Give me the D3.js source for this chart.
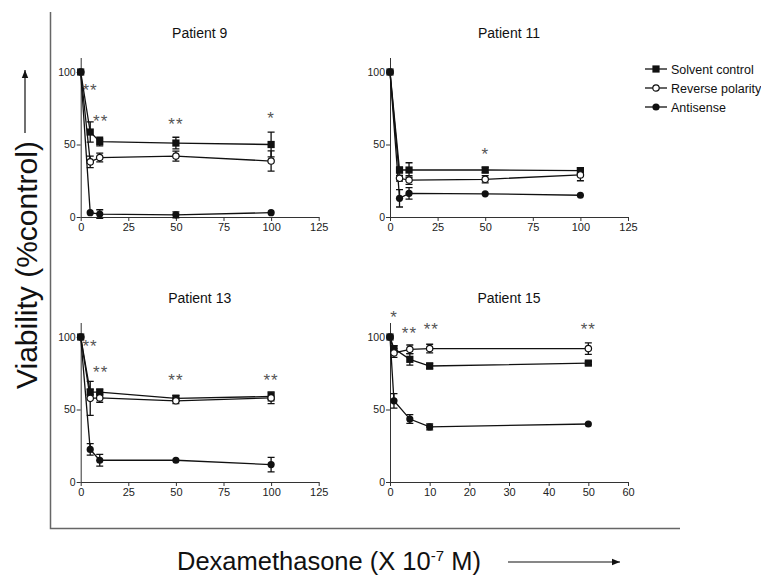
<!DOCTYPE html>
<html>
<head>
<meta charset="utf-8">
<script src="https://cdn.jsdelivr.net/npm/d3@7"></script>
<style>
  body { margin: 0; background: #fff; }
  text { font-family: Arial, "Liberation Sans", sans-serif; }
</style>
</head>
<body>
<div class="chart-container"></div>
<script>
// Data
const patients = ['Patient 9', 'Patient 11', 'Patient 13', 'Patient 15'];
const doses = [[0, 5, 10, 50, 100], [0, 5, 10, 50, 100], [0, 5, 10, 50, 100], [0, 1, 5, 10, 50]];
const xMax = [125, 125, 125, 60];
const xTicks = [[0, 25, 50, 75, 100, 125], [0, 25, 50, 75, 100, 125], [0, 25, 50, 75, 100, 125], [0, 10, 20, 30, 40, 50, 60]];
const yTicks = [0, 50, 100];

const solventMean = [[100, 58.6, 52, 51, 50], [100, 32.4, 32.4, 32.4, 32], [100, 62, 62, 57.7, 59], [100, 92, 84.6, 80, 82]];
const solventErr = [[0, 7, 3, 4, 8.5], [0, 2, 5, 2, 2], [0, 2, 2, 2, 3], [0, 2, 4, 2, 1]];
const reverseMean = [[100, 38, 41, 42, 38.6], [100, 26.7, 25.5, 26, 29], [100, 57.7, 58, 56, 58], [100, 89, 91.5, 92, 92]];
const reverseErr = [[0, 4, 3, 3.5, 7], [0, 2, 3, 2.5, 4], [0, 11.7, 3, 2, 4], [0, 3, 3, 3, 4]];
const antisenseMean = [[100, 3, 2, 1.5, 3], [100, 12.9, 16.3, 16, 15], [100, 22.5, 15, 15, 12], [100, 56, 43.4, 38, 40]];
const antisenseErr = [[0, 0, 3, 2, 0], [0, 6, 4, 0, 0], [0, 4, 4, 0, 5], [0, 5, 3, 2, 0]];

// significance marks: [dose, label, y value]
const stars = [
    [[4.9, '**', 89.7], [10.5, '**', 68.5], [50, '**', 66.4], [100, '*', 71]],
    [[50, '*', 45.7]],
    [[4.9, '**', 96], [10.5, '**', 78], [50, '**', 73], [100, '**', 73]],
    [[1, '*', 116.5], [4.9, '**', 105.5], [10.4, '**', 107.6], [50, '**', 107.6]]
];

const seriesNames = ['Solvent control', 'Reverse polarity', 'Antisense'];
const seriesMarks = ['square', 'open', 'dot'];

// Dimensions & layout
const W = 761, H = 575;
const panelW = 238, panelH = 159.5;
const panelX = [80.7, 390, 80.7, 390];
const panelY = [217, 217, 482, 482];   // y of the zero line
const ink = '#111';

const svg = d3.select('.chart-container')
    .append('svg')
        .attr('width', W)
        .attr('height', H);

// Outer frame (left + bottom)
svg.append('path')
    .attr('d', 'M50.5,12 V528.5 H680')
    .attr('fill', 'none')
    .attr('stroke', '#666')
    .attr('stroke-width', 1.5);

function drawMarker(g, kind, x, y) {
    if (kind === 'square') {
        g.append('rect').attr('x', x - 3.6).attr('y', y - 3.6)
            .attr('width', 7.2).attr('height', 7.2).attr('fill', ink);
    } else if (kind === 'open') {
        g.append('circle').attr('cx', x).attr('cy', y).attr('r', 3.2)
            .attr('fill', '#fff').attr('stroke', ink).attr('stroke-width', 1.2);
    } else {
        g.append('circle').attr('cx', x).attr('cy', y).attr('r', 3.6).attr('fill', ink);
    }
}

patients.forEach((name, i) => {
    const x = d3.scaleLinear().domain([0, xMax[i]]).range([0, panelW]);
    const y = d3.scaleLinear().domain([0, 110]).range([0, -panelH]);

    const g = svg.append('g')
        .attr('transform', `translate(${panelX[i]},${panelY[i]})`);

    // Axes
    g.append('g')
        .call(d3.axisBottom(x).tickValues(xTicks[i]).tickSize(4).tickSizeOuter(0).tickPadding(2))
        .call(a => a.selectAll('text').attr('font-size', 11).attr('fill', '#222'))
        .call(a => a.selectAll('path,line').attr('stroke', '#333'));
    g.append('g')
        .call(d3.axisLeft(y).tickValues(yTicks).tickSize(4).tickSizeOuter(0).tickPadding(1))
        .call(a => a.selectAll('text').attr('font-size', 10.5).attr('fill', '#222'))
        .call(a => a.selectAll('path,line').attr('stroke', '#333'));

    // Title
    g.append('text')
        .attr('x', panelW / 2)
        .attr('y', -panelH - 20)
        .attr('text-anchor', 'middle')
        .attr('font-size', 14)
        .attr('fill', '#111')
        .text(name);

    const means = [solventMean[i], reverseMean[i], antisenseMean[i]];
    const errs = [solventErr[i], reverseErr[i], antisenseErr[i]];
    const line = d3.line().x(d => x(d[0])).y(d => y(d[1]));

    means.forEach((m, s) => {
        const pts = doses[i].map((d, k) => [d, m[k], errs[s][k]]);
        g.append('path')
            .datum(pts)
            .attr('d', line)
            .attr('fill', 'none')
            .attr('stroke', ink)
            .attr('stroke-width', 1.3);

        // Error bars
        pts.filter(p => p[2] > 0).forEach(p => {
            const px = x(p[0]), y1 = y(p[1] + p[2]), y2 = y(p[1] - p[2]);
            g.append('path')
                .attr('d', `M${px},${y1}V${y2}M${px - 3.5},${y1}H${px + 3.5}M${px - 3.5},${y2}H${px + 3.5}`)
                .attr('stroke', ink)
                .attr('stroke-width', 1.3)
                .attr('fill', 'none');
        });
    });

    means.forEach((m, s) => {
        doses[i].forEach((d, k) => drawMarker(g, seriesMarks[s], x(d), y(m[k])));
    });

    // Significance stars
    stars[i].forEach(st => {
        g.append('text')
            .attr('x', x(st[0]))
            .attr('y', y(st[2]) + 9.5)
            .attr('text-anchor', 'middle')
            .attr('font-size', 17)
            .attr('letter-spacing', 1)
            .attr('fill', '#555')
            .text(st[1]);
    });
});

// Legend
const legend = svg.append('g').attr('transform', 'translate(645,69)');
seriesNames.forEach((n, s) => {
    const row = legend.append('g').attr('transform', `translate(0,${s * 19})`);
    row.append('line').attr('x1', 0).attr('x2', 22).attr('y1', 0).attr('y2', 0)
        .attr('stroke', ink).attr('stroke-width', 1.3);
    drawMarker(row, seriesMarks[s], 11, 0);
    row.append('text')
        .attr('x', 26)
        .attr('y', 4.5)
        .attr('font-size', 12.5)
        .attr('fill', '#111')
        .text(n);
});

// Axis titles with arrows
svg.append('defs').append('marker')
    .attr('id', 'arrow')
    .attr('viewBox', '0 0 10 10')
    .attr('refX', 10).attr('refY', 5)
    .attr('markerWidth', 7).attr('markerHeight', 7)
    .attr('orient', 'auto')
    .append('path')
    .attr('d', 'M0,1 L10,5 L0,9 z')
    .attr('fill', '#111');

const xLab = svg.append('text')
    .attr('x', 177)
    .attr('y', 570)
    .attr('font-size', 25.5)
    .attr('fill', '#111');
xLab.append('tspan').text('Dexamethasone (X 10');
xLab.append('tspan').attr('font-size', 15).attr('dy', -9).text('-7');
xLab.append('tspan').attr('dy', 9).text(' M)');

svg.append('line')
    .attr('x1', 508).attr('x2', 620).attr('y1', 562).attr('y2', 562)
    .attr('stroke', '#111').attr('stroke-width', 1.2)
    .attr('marker-end', 'url(#arrow)');

svg.append('text')
    .attr('transform', 'translate(37,389) rotate(-90)')
    .attr('font-size', 30)
    .attr('fill', '#111')
    .text('Viability (%control)');

svg.append('line')
    .attr('x1', 25).attr('x2', 25).attr('y1', 133).attr('y2', 70)
    .attr('stroke', '#111').attr('stroke-width', 1.2)
    .attr('marker-end', 'url(#arrow)');
</script>
</body>
</html>
